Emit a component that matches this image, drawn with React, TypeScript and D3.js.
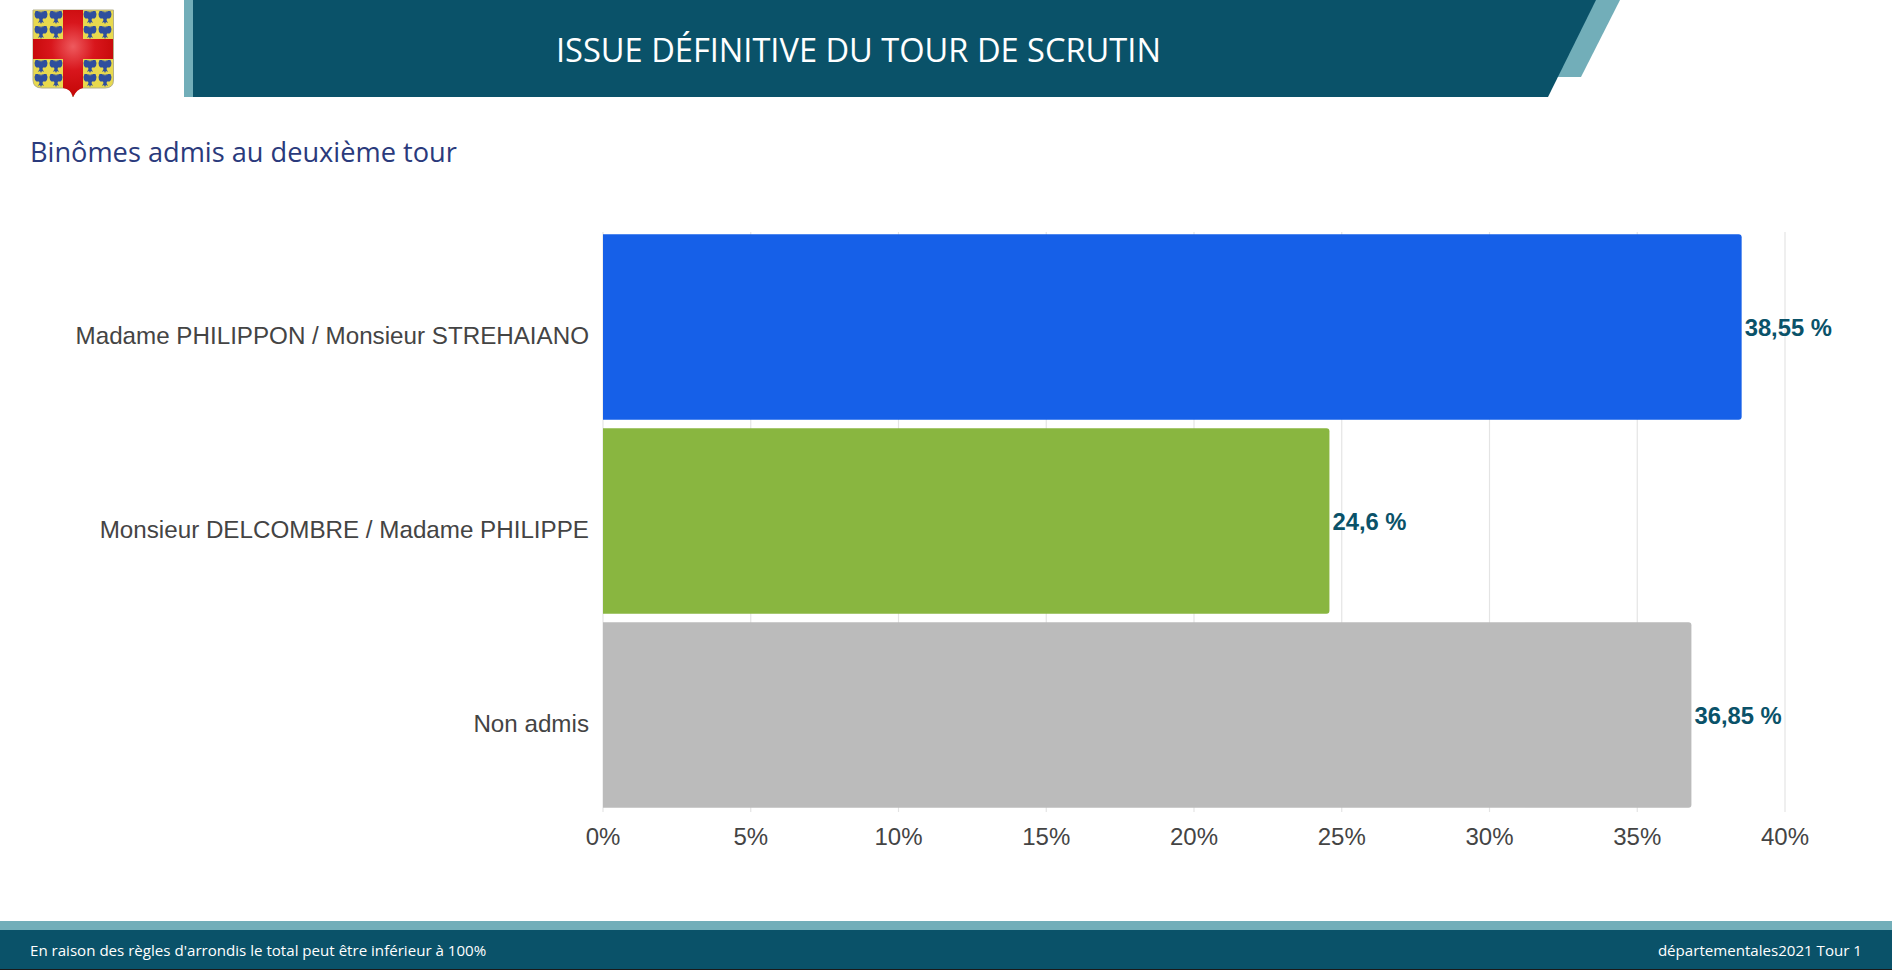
import React from 'react';
import * as d3 from 'd3';

const categories = ['Madame PHILIPPON / Monsieur STREHAIANO', 'Monsieur DELCOMBRE / Madame PHILIPPE', 'Non admis'];
const values = [38.55, 24.6, 36.85];
const valueLabels = ['38,55 %', '24,6 %', '36,85 %'];
const barColors = ['#1660e8', '#89b640', '#bbbbbb'];
const ticks = [0, 5, 10, 15, 20, 25, 30, 35, 40];

const DARK = '#0a5269';
const LIGHT = '#72aeb9';
const HEAD_FONT = '"Open Sans", "Noto Sans", sans-serif';
const CHART_FONT = '"Liberation Sans", Arial, sans-serif';

const x = d3.scaleLinear().domain([0, 40]).range([603, 1785]);
const y = d3.scaleBand<string>().domain(categories).range([230, 812]).paddingInner(0.043).paddingOuter(0.0215);

// small eagle for the coat of arms
const eagle = 'M-1.2,-6 L-1,-3.5 L-0.6,-5.5 L0.6,-5.5 L1,-3.5 L1.2,-6 L2.2,-5 L2.5,-6 L5.5,-6 L6.5,-3 L6,0 L4.5,1.5 L2,1.5 L1.5,3 L3,6 L1,5 L0,7 L-1,5 L-3,6 L-1.5,3 L-2,1.5 L-4.5,1.5 L-6,0 L-6.5,-3 L-5.5,-6 L-2.5,-6 L-2.2,-5 Z';
const eagleX = [41, 56, 90, 105];
const eagleY = [17, 32, 66, 80];

function Logo() {
  return (
    <g>
      <defs>
        <radialGradient id="cross" cx="0.5" cy="0.42" r="0.55">
          <stop offset="0" stopColor="#ee5a5e" />
          <stop offset="0.5" stopColor="#d8161c" />
          <stop offset="1" stopColor="#c60808" />
        </radialGradient>
      </defs>
      <path d="M33,10 H113.5 V80 Q113.5,88 105,88 H80 Q75,89 73,97 Q71,89 66,88 H42 Q33,88 33,80 Z" fill="#e8d94e" stroke="#b5b08a" strokeWidth={1} />
      {eagleX.map(ex => eagleY.map(ey => (
        <path key={`${ex}-${ey}`} d={eagle} transform={`translate(${ex},${ey})`} fill="#2f4f9e" />
      )))}
      <path d="M63,10 H83 V39 H113 V59 H83 V88 Q77,89 73,97 Q71,89 63,88 V59 H33 V39 H63 Z" fill="url(#cross)" />
    </g>
  );
}

export default function App() {
  return (
    <svg width={1892} height={970} style={{ position: 'absolute', left: 0, top: 0, display: 'block', background: '#fff' }}>
      {/* header */}
      <Logo />
      <rect x={184} y={0} width={9} height={97} fill={LIGHT} />
      <path d="M1590,0 H1620 L1581,77 H1550 Z" fill={LIGHT} />
      <path d="M193,0 H1596 L1548,97 H193 Z" fill={DARK} />
      <text x={556} y={62} fontFamily={HEAD_FONT} fontSize={32.6} fill="#fff">ISSUE DÉFINITIVE DU TOUR DE SCRUTIN</text>
      <text x={30} y={162} fontFamily={HEAD_FONT} fontSize={27.2} fill="#2a3a7c">Binômes admis au deuxième tour</text>

      {/* grid */}
      {ticks.map(t => (
        <line key={t} x1={x(t)} x2={x(t)} y1={232} y2={812} stroke="#e4e4e4" strokeWidth={1.2} />
      ))}

      {/* bars */}
      {categories.map((c, i) => {
        const right = x(values[i]) - 0.5;
        const top = y(c)!;
        const bottom = top + y.bandwidth();
        return (
          <path
            key={c}
            d={`M${x(0)},${top} H${right - 3} Q${right},${top} ${right},${top + 3} V${bottom - 3} Q${right},${bottom} ${right - 3},${bottom} H${x(0)} Z`}
            fill={barColors[i]}
          />
        );
      })}

      {/* category labels */}
      {categories.map(c => (
        <text key={c} x={589} y={y(c)! + y.bandwidth() / 2 + 17} textAnchor="end" fontFamily={CHART_FONT} fontSize={24.2} fill="#444">{c}</text>
      ))}

      {/* value labels */}
      {categories.map((c, i) => (
        <text key={c} x={x(values[i]) + 2.5} y={y(c)! + y.bandwidth() / 2 + 9} fontFamily={CHART_FONT} fontSize={23.8} fontWeight="bold" fill={DARK}>{valueLabels[i]}</text>
      ))}

      {/* x axis labels */}
      {ticks.map(t => (
        <text key={t} x={x(t)} y={845} textAnchor="middle" fontFamily={CHART_FONT} fontSize={24} fill="#444">{`${t}%`}</text>
      ))}

      {/* footer */}
      <rect x={0} y={921} width={1892} height={9} fill={LIGHT} />
      <rect x={0} y={930} width={1892} height={39} fill={DARK} />
      <rect x={0} y={969} width={1892} height={1} fill="#1a1a1a" />
      <text x={30} y={956} fontFamily={HEAD_FONT} fontSize={15.1} fill="#fff">En raison des règles d'arrondis le total peut être inférieur à 100%</text>
      <text x={1862} y={956} textAnchor="end" fontFamily={HEAD_FONT} fontSize={15.1} fill="#fff">départementales2021 Tour 1</text>
    </svg>
  );
}
